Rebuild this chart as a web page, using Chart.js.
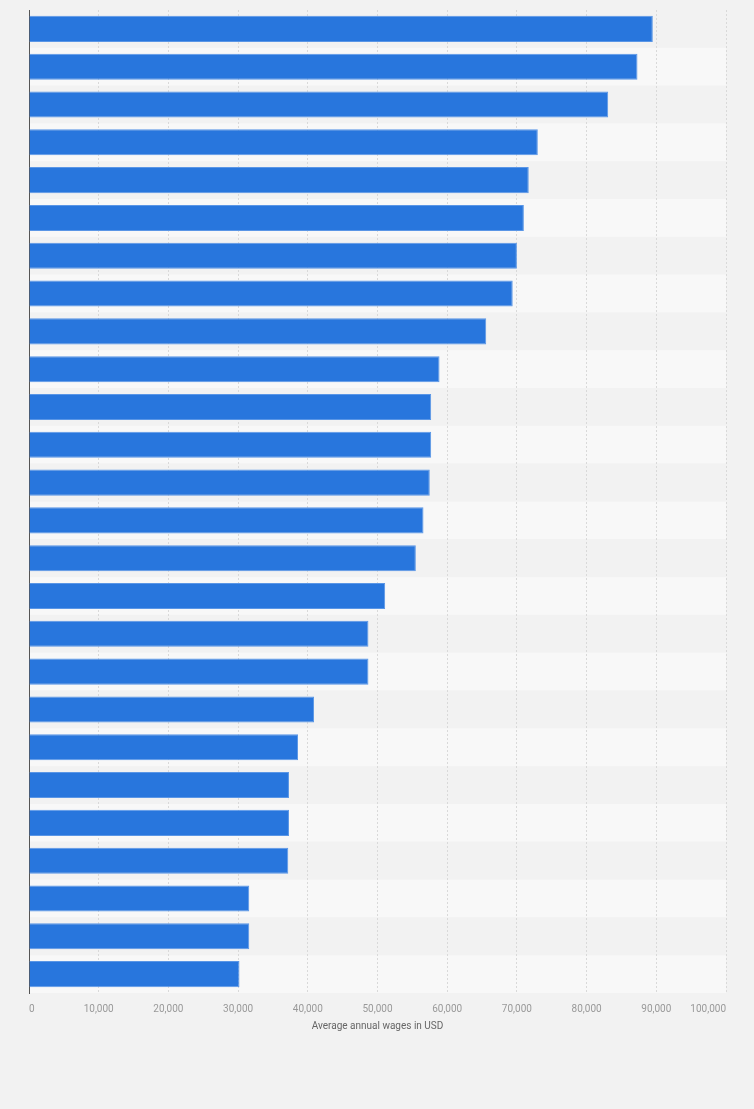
<!DOCTYPE html>
<html>
<head>
<meta charset="utf-8">
<script src="https://cdn.jsdelivr.net/npm/chart.js@4"></script>
<style>
  html, body { margin: 0; padding: 0; background: #f2f2f2; }
  #wrap { width: 754px; height: 1109px; position: relative; }
</style>
</head>
<body>
<div id="wrap"><canvas id="chart"></canvas></div>
<script>
// ranks only: the category names are not shown in the picture
const categories = ['1', '2', '3', '4', '5', '6', '7', '8', '9', '10', '11', '12', '13',
    '14', '15', '16', '17', '18', '19', '20', '21', '22', '23', '24', '25', '26'];
const wages = [89500, 87300, 83100, 73000, 71700, 71000, 70000, 69400, 65600, 58900,
    57700, 57700, 57500, 56600, 55500, 51100, 48700, 48700, 40900, 38600,
    37300, 37300, 37200, 31600, 31600, 30200];
const axisMax = 100000;
const axisStep = 10000;
const axisTitle = 'Average annual wages in USD';

// alternating row bands behind the bars
const rowBands = {
    id: 'rowBands',
    beforeDraw(chart) {
        const { ctx, chartArea, scales } = chart;
        const y = scales.y;
        const half = (y.getPixelForValue(1) - y.getPixelForValue(0)) / 2;
        ctx.save();
        categories.forEach((c, i) => {
            const mid = y.getPixelForValue(i);
            ctx.fillStyle = i % 2 === 0 ? '#f2f2f2' : '#f8f8f8';
            ctx.fillRect(chartArea.left, mid - half, chartArea.right - chartArea.left, half * 2);
        });
        ctx.restore();
    }
};

const ctx = document.getElementById('chart').getContext('2d');
new Chart(ctx, {
    type: 'bar',
    data: {
        labels: categories,
        datasets: [{
            data: wages,
            backgroundColor: '#2876dd',
            borderColor: '#5a96e6',
            borderWidth: 1,
            borderSkipped: 'start',
            categoryPercentage: 1,
            barPercentage: 0.69
        }]
    },
    options: {
        indexAxis: 'y',
        responsive: true,
        maintainAspectRatio: false,
        animation: false,
        layout: { padding: { left: 29, right: 28, top: 10, bottom: 77 } },
        plugins: {
            legend: { display: false },
            tooltip: {
                callbacks: { label: c => c.parsed.x.toLocaleString('en-US') }
            }
        },
        scales: {
            x: {
                min: 0,
                max: axisMax,
                ticks: {
                    stepSize: axisStep,
                    align: 'inner',
                    padding: 10,
                    color: '#999999',
                    font: { family: 'Roboto', size: 10 },
                    callback: v => v.toLocaleString('en-US')
                },
                grid: { color: '#d9d9d9', drawTicks: false },
                border: { display: false, dash: [2, 2] },
                title: {
                    display: true,
                    text: axisTitle,
                    color: '#666666',
                    font: { family: 'Roboto', size: 10 },
                    padding: { top: -5, bottom: 0 }
                }
            },
            y: {
                ticks: { display: false },
                grid: { display: false, drawTicks: false },
                border: { display: true, color: '#555555', width: 1 }
            }
        }
    },
    plugins: [rowBands]
});
</script>
</body>
</html>
